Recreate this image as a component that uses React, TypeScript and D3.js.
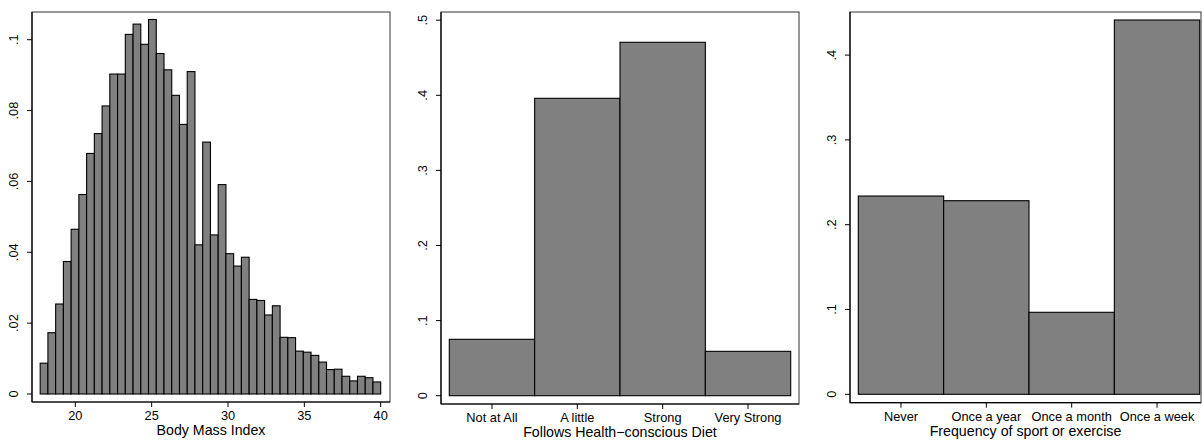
import React from "react";
import * as d3 from "d3";

// ---- Data ----
const bmiBinStart = 17.7;
const bmiBinEnd = 40;
const bmiDensity = [
  0.0087, 0.0173, 0.0254, 0.0374, 0.0465, 0.0563, 0.0679, 0.0735, 0.0813, 0.0903,
  0.0903, 0.1015, 0.1044, 0.0987, 0.1057, 0.0961, 0.0915, 0.0843, 0.0761, 0.0910,
  0.0421, 0.0711, 0.0449, 0.0591, 0.0396, 0.0361, 0.0386, 0.0267, 0.0264, 0.0223,
  0.0249, 0.0160, 0.0159, 0.0121, 0.0118, 0.0109, 0.0090, 0.0069, 0.0070, 0.0050,
  0.0037, 0.0050, 0.0046, 0.0034,
];
const bmiXTicks = [20, 25, 30, 35, 40];
const bmiYTicks = [0, 0.02, 0.04, 0.06, 0.08, 0.1];

const dietCats = ["Not at All", "A little", "Strong", "Very Strong"];
const dietValues = [0.0751, 0.396, 0.4706, 0.0591];
const dietYTicks = [0, 0.1, 0.2, 0.3, 0.4, 0.5];

const sportCats = ["Never", "Once a year", "Once a month", "Once a week"];
const sportValues = [0.2338, 0.2283, 0.0967, 0.4414];
const sportYTicks = [0, 0.1, 0.2, 0.3, 0.4];

const FONT = "'Liberation Sans', Arial, Helvetica, sans-serif";
const FILL = "#808080";

const fmt = (v: number) => {
  if (v === 0) return "0";
  const s = String(+v.toFixed(3));
  return s.replace(/^0\./, ".");
};

type FrameProps = {
  left: number;
  right: number;
  top: number;
  bottom: number;
  y: d3.ScaleLinear<number, number>;
  yTicks: number[];
  xTicks: { pos: number; label: string }[];
  title: string;
  children: React.ReactNode;
};

function Panel({ left, right, top, bottom, y, yTicks, xTicks, title, children }: FrameProps) {
  return (
    <g>
      <rect x={left} y={top} width={right - left} height={bottom - top} fill="#fff" stroke="#333" strokeWidth={1} />
      {children}
      <line x1={left} x2={left} y1={top} y2={bottom} stroke="#000" strokeWidth={1.2} />
      <line x1={left} x2={right} y1={bottom} y2={bottom} stroke="#000" strokeWidth={1.2} />
      {yTicks.map((t) => (
        <g key={"y" + t}>
          <line x1={left - 5} x2={left} y1={y(t)} y2={y(t)} stroke="#000" strokeWidth={1} />
          <text
            transform={`translate(${left - 14},${y(t)}) rotate(-90)`}
            textAnchor="middle"
            fontFamily={FONT}
            fontSize={12.8}
            fill="#000"
          >
            {fmt(t)}
          </text>
        </g>
      ))}
      {xTicks.map((t) => (
        <g key={"x" + t.label}>
          <line x1={t.pos} x2={t.pos} y1={bottom} y2={bottom + 5} stroke="#000" strokeWidth={1} />
          <text x={t.pos} y={bottom + 18} textAnchor="middle" fontFamily={FONT} fontSize={12.8} fill="#000">
            {t.label}
          </text>
        </g>
      ))}
      <text
        x={(left + right) / 2}
        y={bottom + 33}
        textAnchor="middle"
        fontFamily={FONT}
        fontSize={14.2}
        fill="#000"
      >
        {title}
      </text>
    </g>
  );
}

export default function App() {
  // Panel 1: BMI histogram
  const x1 = d3.scaleLinear().domain([20, 40]).range([75.3, 380.7]);
  const y1 = d3.scaleLinear().domain([0, 0.1]).range([394, 39.7]);
  const binW = (bmiBinEnd - bmiBinStart) / bmiDensity.length;

  // Panel 2: diet
  const x2 = d3.scaleBand<string>().domain(dietCats).range([449.3, 790.7]).padding(0);
  const y2 = d3.scaleLinear().domain([0, 0.5]).range([395.7, 20.2]);

  // Panel 3: sport
  const x3 = d3.scaleBand<string>().domain(sportCats).range([858.3, 1199.7]).padding(0);
  const y3 = d3.scaleLinear().domain([0, 0.4]).range([394.3, 55.1]);

  return (
    <svg
      width={1202}
      height={442}
      style={{ position: "absolute", left: 0, top: 0, background: "#fff" }}
    >
      <rect x={0} y={0} width={1202} height={442} fill="#fff" />
      <Panel
        left={32}
        right={390}
        top={12}
        bottom={402}
        y={y1}
        yTicks={bmiYTicks}
        xTicks={bmiXTicks.map((t) => ({ pos: x1(t), label: String(t) }))}
        title="Body Mass Index"
      >
        {bmiDensity.map((v, i) => {
          const a = x1(bmiBinStart + i * binW);
          const b = x1(bmiBinStart + (i + 1) * binW);
          return (
            <rect key={i} x={a} y={y1(v)} width={b - a} height={y1(0) - y1(v)} fill={FILL} stroke="#000" strokeWidth={1.1} />
          );
        })}
      </Panel>
      <Panel
        left={441}
        right={799}
        top={12}
        bottom={404}
        y={y2}
        yTicks={dietYTicks}
        xTicks={dietCats.map((c) => ({ pos: (x2(c) as number) + x2.bandwidth() / 2, label: c }))}
        title="Follows Health−conscious Diet"
      >
        {dietCats.map((c, i) => (
          <rect
            key={c}
            x={x2(c) as number}
            y={y2(dietValues[i])}
            width={x2.bandwidth()}
            height={y2(0) - y2(dietValues[i])}
            fill={FILL}
            stroke="#000"
            strokeWidth={1.1}
          />
        ))}
      </Panel>
      <Panel
        left={850}
        right={1201}
        top={12}
        bottom={402.7}
        y={y3}
        yTicks={sportYTicks}
        xTicks={sportCats.map((c) => ({ pos: (x3(c) as number) + x3.bandwidth() / 2, label: c }))}
        title="Frequency of sport or exercise"
      >
        {sportCats.map((c, i) => (
          <rect
            key={c}
            x={x3(c) as number}
            y={y3(sportValues[i])}
            width={x3.bandwidth()}
            height={y3(0) - y3(sportValues[i])}
            fill={FILL}
            stroke="#000"
            strokeWidth={1.1}
          />
        ))}
      </Panel>
    </svg>
  );
}
